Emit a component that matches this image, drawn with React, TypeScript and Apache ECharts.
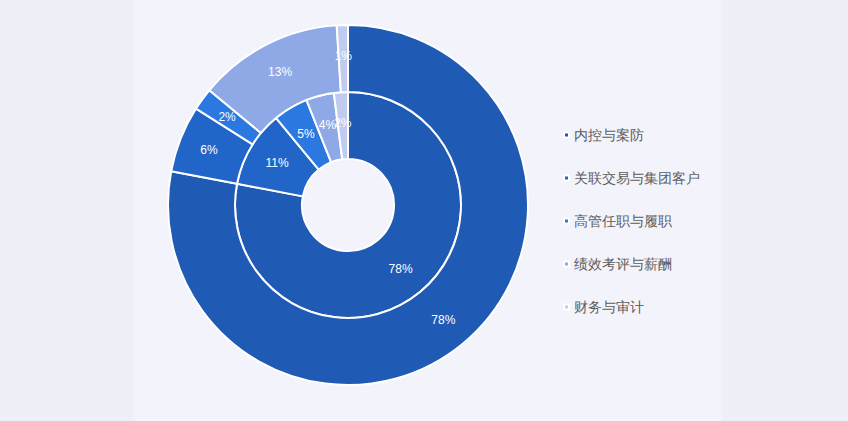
import React, { useEffect, useRef } from 'react';
import * as echarts from 'echarts';

const categories = ['内控与案防', '关联交易与集团客户', '高管任职与履职', '绩效考评与薪酬', '财务与审计'];
const innerValues = [78, 11, 5, 4, 2];
const outerValues = [78, 6, 2, 13, 1];
const colors = ['#1f5ab4', '#2265c9', '#2a78e0', '#8fa8e6', '#c0ccef'];

const App: React.FC = () => {
	const chartContainer = useRef<HTMLDivElement | null>(null);

	useEffect(() => {
		if (!chartContainer.current) return;
		const chart = echarts.init(chartContainer.current, undefined, { renderer: 'svg' });

		const ringLabel = {
			show: true,
			position: 'inside',
			formatter: '{d}%',
			color: '#ffffff',
			fontSize: 12,
		};
		const ringStyle = { borderColor: '#ffffff', borderWidth: 2 };

		chart.setOption({
			animation: false,
			color: colors,
			legend: {
				orient: 'vertical',
				left: 558,
				top: 123,
				icon: 'rect',
				itemWidth: 5,
				itemHeight: 5,
				itemGap: 29,
				textStyle: { color: '#5c5c5c', fontSize: 14 },
				data: categories,
			},
			series: [
				{
					name: 'inner',
					type: 'pie',
					center: [348, 205],
					radius: [46, 113],
					startAngle: 90,
					avoidLabelOverlap: false,
					label: ringLabel,
					labelLine: { show: false },
					labelLayout: { hideOverlap: false },
					itemStyle: ringStyle,
					data: categories.map((name, i) => ({ name, value: innerValues[i] })),
				},
				{
					name: 'outer',
					type: 'pie',
					center: [348, 205],
					radius: [113, 180],
					startAngle: 90,
					avoidLabelOverlap: false,
					label: ringLabel,
					labelLine: { show: false },
					labelLayout: { hideOverlap: false },
					itemStyle: ringStyle,
					data: categories.map((name, i) => ({ name, value: outerValues[i] })),
				},
			],
		});

		return () => {
			chart.dispose();
		};
	}, []);

	return (
		<div style={{ position: 'fixed', left: 0, top: 0, width: 848, height: 421, background: '#eef0f8' }}>
			<div style={{ position: 'absolute', left: 133, top: 0, width: 589, height: 421, background: '#f2f3fb' }} />
			<div ref={chartContainer} style={{ position: 'absolute', left: 0, top: 0, width: 848, height: 421 }} />
		</div>
	);
};

export default App;
